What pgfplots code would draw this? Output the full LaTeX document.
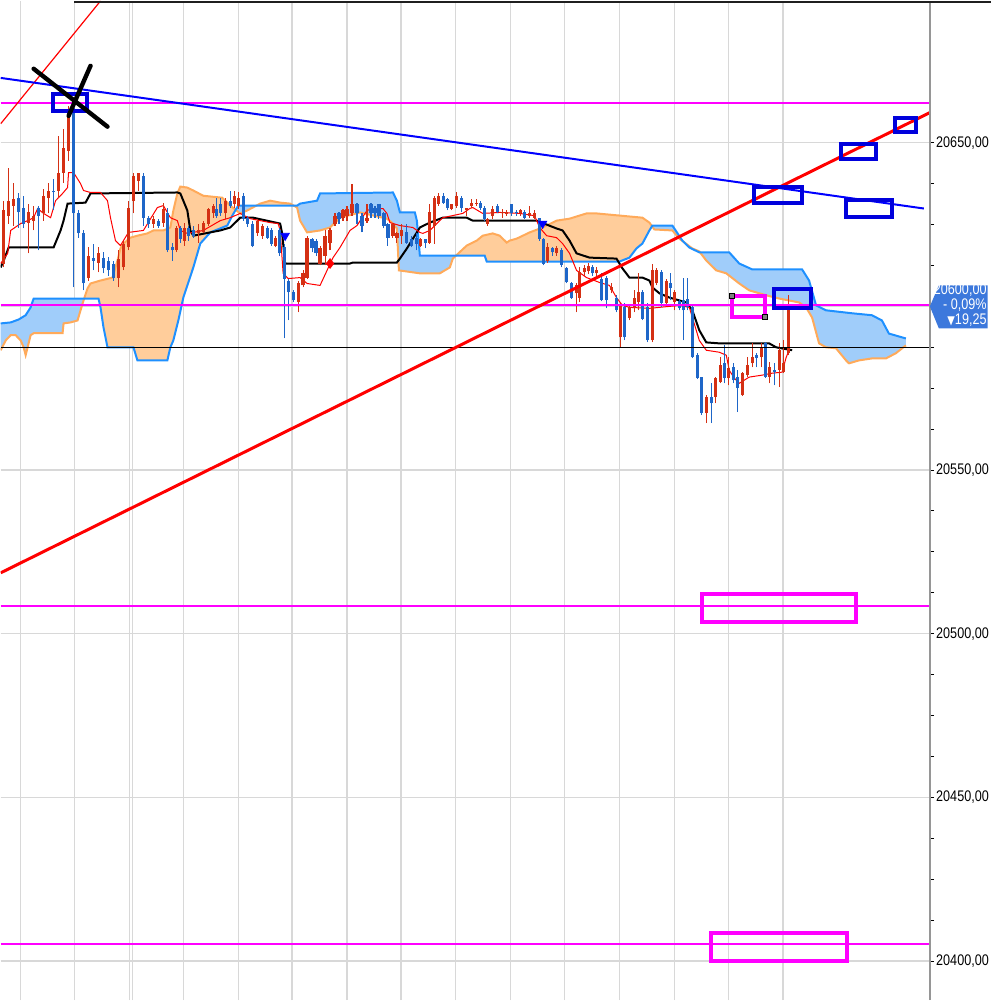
\documentclass[border=0pt]{standalone}
\usepackage{graphicx}
\usepackage{pgfplots}
\pgfplotsset{compat=1.18}
\usepackage{pgfplotstable}
\usepgfplotslibrary{fillbetween}
\usepackage{fontspec}
\setmainfont{Liberation Sans}
\newfontfamily\dejavu{DejaVu Sans}
\newcommand{\yl}[1]{\scalebox{0.82}[1]{#1}}

\definecolor{upc}{RGB}{212,48,20}
\definecolor{dnc}{RGB}{30,102,200}
\definecolor{spanAc}{RGB}{255,170,90}
\definecolor{spanBc}{RGB}{30,144,255}
\definecolor{cloudB}{RGB}{160,205,250}
\definecolor{cloudA}{RGB}{255,205,155}
\definecolor{mag}{RGB}{255,0,255}
\definecolor{rectb}{RGB}{0,0,220}
\definecolor{trendb}{RGB}{0,0,255}
\definecolor{trendr}{RGB}{255,0,0}
\definecolor{gridc}{RGB}{216,216,216}
\definecolor{boxc}{RGB}{60,120,220}
\definecolor{axc}{RGB}{150,150,150}

% up (red) candles: x open high low close
\pgfplotstableread{
x o h l c
3 20613.1 20632.3 20611.9 20629.3
8 20627.7 20642.4 20625.3 20632.3
13 20630.8 20637.8 20624.7 20632.9
28 20625.6 20631.4 20616.2 20628.7
33 20626.2 20630.8 20623.2 20627.7
43 20628.4 20636.0 20626.2 20633.8
48 20633.2 20637.8 20628.4 20635.4
58 20635.4 20652.1 20633.2 20640.9
63 20640.9 20654.3 20637.8 20648.5
68 20647.6 20661.3 20644.5 20660.4
88 20608.8 20618.0 20607.9 20615.5
98 20613.4 20618.0 20610.4 20616.2
118 20608.8 20617.1 20605.8 20614.6
123 20611.9 20620.1 20611.0 20619.2
128 20618.0 20632.3 20617.1 20630.2
133 20632.3 20640.9 20628.4 20639.9
138 20638.4 20640.9 20635.4 20640.6
153 20625.3 20627.7 20624.1 20626.8
163 20625.6 20631.7 20624.4 20629.9
176 20617.1 20624.7 20616.5 20623.8
184 20620.1 20625.6 20618.6 20624.1
198 20622.3 20625.3 20619.5 20623.2
203 20622.6 20626.2 20622.3 20625.6
208 20625.3 20630.2 20624.7 20629.9
213 20628.4 20631.4 20627.1 20630.8
225 20628.4 20633.2 20626.8 20632.3
234 20631.4 20635.4 20630.2 20633.8
238 20630.8 20634.8 20629.9 20633.2
257 20622.3 20626.8 20621.6 20626.2
262 20621.6 20625.3 20620.7 20624.7
275 20618.6 20621.6 20618.0 20621.0
298 20601.2 20607.9 20598.2 20607.0
303 20606.4 20611.0 20605.8 20610.1
307 20608.8 20621.6 20608.5 20621.0
320 20613.1 20618.6 20612.5 20617.7
325 20615.5 20623.2 20612.5 20621.6
330 20619.5 20623.8 20617.1 20623.2
335 20625.3 20628.4 20624.7 20627.7
343 20627.1 20629.9 20626.2 20629.3
347 20627.7 20630.8 20626.2 20629.9
352 20628.4 20637.5 20627.7 20631.4
367 20626.2 20631.4 20625.6 20627.1
393 20621.6 20625.6 20621.0 20625.3
397 20621.0 20622.6 20619.5 20622.3
402 20621.6 20625.3 20619.2 20623.2
421 20618.6 20621.0 20618.0 20620.7
430 20619.5 20631.4 20619.2 20628.7
435 20624.7 20633.8 20619.2 20633.2
439 20631.4 20634.5 20630.8 20633.8
452 20629.9 20631.4 20629.3 20631.4
457 20630.8 20634.8 20630.2 20633.8
467 20629.3 20630.2 20627.7 20630.2
472 20630.8 20632.9 20630.2 20631.7
477 20631.4 20632.9 20630.8 20631.7
488 20625.3 20627.1 20624.7 20626.8
493 20627.7 20630.8 20626.8 20629.9
503 20628.4 20629.9 20627.1 20628.7
507 20628.3 20629.3 20627.7 20628.8
521 20628.4 20629.9 20627.7 20629.3
530 20627.7 20630.8 20627.1 20628.4
535 20627.1 20629.3 20626.8 20628.4
548 20614.0 20619.5 20613.4 20618.0
557 20616.2 20618.6 20615.5 20617.7
577 20604.0 20607.0 20598.2 20606.4
580 20602.7 20611.9 20601.2 20610.4
585 20610.4 20612.5 20609.4 20611.6
589 20610.7 20613.4 20609.8 20612.2
597 20610.1 20611.9 20609.4 20611.0
612 20604.9 20607.0 20604.0 20605.8
621 20590.5 20600.9 20587.5 20600.3
630 20596.6 20600.3 20595.7 20599.7
635 20599.4 20604.9 20598.2 20602.7
639 20601.2 20610.1 20598.8 20604.3
653 20589.6 20613.1 20589.0 20611.0
657 20607.0 20611.6 20606.4 20611.0
667 20600.9 20608.5 20600.3 20607.9
675 20601.2 20604.9 20598.8 20604.3
707 20567.4 20572.9 20564.3 20572.3
716 20572.3 20578.4 20570.4 20578.1
721 20576.8 20584.4 20576.5 20582.0
729 20578.1 20584.4 20575.9 20581.1
743 20572.9 20579.9 20572.6 20579.6
748 20579.0 20584.4 20578.4 20582.0
753 20582.6 20588.7 20581.4 20584.4
762 20584.4 20588.7 20581.4 20587.2
770 20578.4 20582.9 20576.5 20581.4
780 20580.5 20588.7 20575.3 20586.6
784 20579.9 20589.6 20579.6 20582.6
789 20585.7 20603.4 20585.1 20600.0
}\up

% down (blue) candles: x open high low close
\pgfplotstableread{
x o h l c
18 20633.2 20634.5 20624.1 20628.7
23 20630.2 20633.8 20623.8 20625.3
38 20630.2 20630.8 20617.1 20627.7
53 20635.4 20639.0 20629.3 20634.8
73 20660.7 20663.7 20605.8 20628.4
78 20628.4 20629.3 20621.0 20622.3
83 20622.3 20623.2 20604.9 20607.0
93 20614.9 20619.2 20611.0 20614.0
103 20614.9 20616.5 20610.1 20611.6
108 20614.0 20615.2 20609.4 20611.0
113 20613.1 20614.0 20607.9 20608.8
143 20639.9 20640.9 20624.7 20627.1
148 20627.1 20627.7 20624.1 20625.3
158 20626.2 20626.8 20624.1 20624.7
167 20628.4 20630.2 20616.5 20617.1
172 20618.0 20619.5 20614.0 20617.1
180 20623.8 20624.7 20619.5 20620.7
188 20623.8 20624.7 20620.1 20621.6
193 20623.2 20624.7 20621.0 20621.6
216 20629.9 20633.2 20627.1 20627.7
220 20631.4 20633.2 20627.7 20628.4
230 20632.3 20635.4 20630.2 20630.8
243 20633.8 20634.5 20626.2 20626.8
247 20627.1 20627.7 20624.4 20625.3
252 20625.3 20626.2 20618.0 20618.6
267 20624.1 20624.7 20620.7 20621.0
271 20623.2 20623.8 20618.6 20619.2
279 20623.2 20623.8 20615.5 20616.2
284 20618.0 20619.2 20590.2 20608.5
288 20607.9 20608.5 20595.7 20604.3
293 20604.3 20604.9 20601.2 20601.8
312 20620.7 20621.0 20616.5 20617.7
316 20620.1 20620.7 20615.5 20616.2
339 20628.4 20628.7 20625.3 20626.8
357 20631.4 20631.7 20625.3 20628.4
362 20627.7 20628.4 20622.6 20624.7
371 20631.4 20631.7 20627.1 20628.4
375 20630.2 20630.8 20627.1 20628.4
379 20631.4 20631.4 20626.8 20627.7
384 20628.4 20628.7 20623.8 20624.7
388 20625.3 20625.6 20618.6 20621.0
407 20622.6 20625.3 20619.2 20619.5
412 20620.7 20621.6 20618.0 20618.6
417 20621.0 20622.3 20617.1 20619.2
426 20620.7 20620.7 20617.7 20619.5
444 20633.8 20634.5 20631.4 20631.7
448 20632.9 20633.2 20629.3 20630.2
462 20633.2 20633.8 20628.7 20630.2
481 20631.7 20632.3 20629.3 20630.2
485 20630.2 20630.8 20626.2 20626.8
498 20630.8 20631.4 20628.4 20628.7
512 20631.4 20631.4 20627.7 20628.4
517 20628.7 20629.3 20627.7 20628.4
525 20628.7 20629.3 20626.8 20627.1
540 20627.1 20627.1 20620.1 20620.7
544 20620.7 20621.0 20612.5 20613.1
553 20617.7 20618.0 20615.5 20616.5
562 20617.1 20617.7 20611.9 20612.5
567 20611.6 20611.9 20607.0 20607.3
572 20607.0 20607.3 20602.4 20602.7
593 20611.9 20612.5 20609.4 20610.1
602 20608.5 20610.1 20601.5 20601.8
607 20608.8 20609.4 20599.4 20601.8
617 20602.7 20603.4 20598.2 20598.8
625 20599.7 20600.9 20589.6 20590.5
643 20604.3 20604.9 20595.7 20596.3
648 20599.7 20600.9 20589.0 20589.6
662 20610.4 20611.0 20599.7 20600.9
671 20607.3 20610.1 20601.8 20605.5
680 20601.8 20602.4 20598.8 20599.4
684 20601.8 20608.8 20589.6 20598.8
688 20602.4 20608.8 20598.8 20599.7
693 20599.7 20600.3 20584.1 20584.4
698 20585.1 20585.7 20577.8 20578.1
702 20578.4 20578.4 20566.8 20567.4
712 20572.3 20576.5 20564.3 20570.4
725 20582.6 20588.1 20576.5 20578.1
734 20581.4 20582.6 20576.5 20577.4
738 20578.4 20580.5 20567.7 20575.0
757 20585.1 20585.7 20581.4 20584.1
766 20588.7 20589.0 20578.1 20578.4
775 20580.5 20582.6 20575.9 20579.9
}\dn

% Senkou span A (orange)
\pgfplotstableread{
x y
0 20586.6
5 20589.6
10 20591.2
15 20591.2
20 20589.6
23 20587.5
25 20585.1
27 20587.5
30 20591.2
33 20591.8
62 20591.8
63 20594.8
70 20595.1
77 20595.7
80 20598.8
83 20601.8
87 20605.5
90 20607.0
100 20607.9
112 20608.8
117 20614.0
120 20617.7
123 20619.2
130 20621.0
137 20621.6
147 20622.3
153 20623.2
163 20623.2
170 20624.1
173 20629.3
177 20634.5
180 20636.6
187 20636.3
193 20635.4
203 20633.8
222 20633.2
230 20630.8
240 20628.4
247 20629.3
260 20631.4
270 20632.3
280 20631.7
290 20631.4
297 20630.2
300 20626.2
307 20622.6
320 20623.2
330 20624.1
340 20627.1
360 20628.7
387 20626.8
392 20625.6
397 20623.8
399 20611.0
420 20610.1
440 20610.1
450 20611.9
453 20614.6
467 20618.6
477 20620.1
483 20621.6
493 20622.3
500 20621.6
507 20619.5
510 20620.1
517 20620.7
530 20622.6
543 20624.1
557 20626.2
570 20626.8
587 20628.4
597 20628.4
643 20627.1
650 20625.6
655 20623.5
673 20623.2
680 20620.7
693 20617.7
700 20616.8
707 20614.0
717 20611.0
727 20610.1
740 20607.0
750 20604.9
767 20603.4
780 20602.4
800 20601.2
807 20599.7
813 20596.6
820 20588.7
827 20587.5
837 20587.2
847 20583.5
850 20582.6
860 20583.5
873 20584.1
887 20584.1
897 20585.7
907 20588.1
}\spanA

% Senkou span B (blue)
\pgfplotstableread{
x y
0 20594.8
10 20595.1
18 20596.0
25 20597.3
30 20599.7
33 20602.4
98 20602.4
100 20599.7
103 20593.6
107 20587.5
133 20587.5
137 20583.5
167 20583.5
170 20587.5
173 20589.6
178 20595.7
183 20602.7
193 20611.9
200 20619.2
210 20622.6
227 20624.7
232 20627.7
238 20630.8
297 20630.8
300 20631.4
317 20632.3
320 20634.5
393 20634.8
397 20632.3
400 20628.7
415 20628.7
417 20626.2
420 20615.5
485 20615.5
487 20613.7
620 20613.7
630 20614.9
637 20617.7
643 20619.2
650 20623.2
653 20624.7
673 20624.7
683 20620.1
690 20618.0
700 20616.5
730 20616.5
740 20613.1
753 20611.3
803 20611.3
810 20607.9
817 20600.3
827 20598.8
853 20597.9
873 20597.3
883 20595.7
890 20591.7
907 20590.2
}\spanB

% Kijun (black)
\pgfplotstableread{
x y
0 20611.9
3 20614.0
8 20618.0
53 20618.0
60 20623.2
63 20626.2
67 20631.4
85 20631.7
90 20634.5
177 20634.8
180 20634.5
187 20629.3
190 20623.2
193 20621.6
220 20623.2
230 20624.1
240 20627.1
253 20627.1
280 20625.3
282 20622.3
285 20613.1
350 20613.1
353 20613.4
397 20613.4
400 20614.6
407 20617.7
420 20624.1
430 20625.6
443 20627.1
467 20627.1
473 20626.2
537 20626.2
557 20623.8
563 20623.2
570 20620.1
577 20616.2
590 20614.9
617 20614.6
623 20611.6
630 20608.8
643 20608.8
650 20607.9
653 20605.8
660 20604.0
670 20602.7
687 20601.2
693 20598.8
700 20592.7
707 20589.0
720 20588.7
770 20588.7
777 20587.5
793 20586.6
}\kijun

% Tenkan (red)
\pgfplotstableread{
x y
0 20613.1
7 20616.2
10 20623.2
20 20625.3
27 20626.2
33 20627.1
37 20629.9
43 20628.4
50 20627.1
55 20632.3
62 20634.5
67 20636.3
68 20640.9
73 20640.9
80 20637.5
83 20635.4
90 20634.8
100 20634.8
107 20632.3
110 20627.1
115 20620.1
120 20618.6
128 20622.6
143 20623.2
157 20630.2
163 20630.8
170 20627.1
177 20626.2
180 20623.2
187 20622.3
193 20622.6
203 20623.2
220 20626.2
230 20627.1
240 20628.4
250 20626.8
260 20626.2
270 20625.6
278 20625.3
280 20623.2
283 20610.1
288 20608.5
300 20608.8
307 20607.0
320 20606.4
327 20611.0
333 20614.9
340 20618.0
350 20623.2
357 20624.7
367 20629.3
373 20629.9
383 20629.9
387 20628.4
390 20625.6
400 20624.7
413 20624.1
420 20622.6
423 20622.3
430 20623.2
437 20625.3
443 20627.1
463 20628.4
470 20629.9
473 20630.2
483 20628.4
500 20628.7
520 20628.4
535 20627.7
540 20624.1
547 20621.6
557 20621.0
563 20619.2
570 20616.2
577 20611.0
587 20608.8
595 20607.9
600 20607.3
610 20606.4
617 20602.7
623 20600.3
630 20599.7
650 20599.4
660 20599.7
680 20600.3
690 20599.7
700 20589.6
707 20586.6
720 20586.0
727 20585.1
730 20580.5
735 20578.1
740 20576.5
750 20578.4
763 20579.0
773 20579.6
783 20579.9
787 20584.4
790 20586.6
}\tenkan

\begin{document}
\begin{tikzpicture}
\path (0,0) rectangle (496pt,500.5pt);
\begin{axis}[
  at={(0,0)}, anchor=south west,
  scale only axis, width=465.5pt, height=500.5pt,
  xmin=0, xmax=931, ymin=20388.1, ymax=20693.3,
  axis line style={draw=none},
  scaled y ticks=false, scaled x ticks=false,
  xtick={20,74,129,132,183,238,292,347,401,456,511,565,620,675,729,784},
  xticklabels={},
  xticklabel style={overlay, inner sep=0pt},
  x tick style={draw=none},
  xtick align=inside,
  ytick align=outside,
  xmajorgrids, ymajorgrids,
  grid style={color=gridc, line width=0.7pt},
  ytick={20400,20450,20500,20550,20600,20650},
  yticklabels={{\yl{20400,00}},{\yl{20450,00}},{\yl{20500,00}},{\yl{20550,00}},{},{\yl{20650,00}}},
  minor y tick num=3,
  ytick pos=right, yticklabel pos=right,
  major tick length=2.2pt, minor tick length=2.2pt,
  y tick style={black, line width=0.5pt},
  yticklabel style={font=\fontsize{7.7}{8}\selectfont, inner sep=0.8pt},
]
% cloud boundaries (paths for filling)
\addplot[name path=A, draw=none, forget plot] table[x=x,y=y] {\spanA};
\addplot[name path=B, draw=none, forget plot] table[x=x,y=y] {\spanB};
\addplot[fill=cloudB, draw=none, forget plot] fill between[of=A and B];
\addplot[fill=cloudA, draw=none, forget plot] fill between[of=A and B, soft clip={domain=84:235}];
\addplot[fill=cloudA, draw=none, forget plot] fill between[of=A and B, soft clip={domain=255:294}];
\addplot[fill=cloudA, draw=none, forget plot] fill between[of=A and B, soft clip={domain=455:652}];
\addplot[spanAc, line width=1pt, forget plot] table[x=x,y=y] {\spanA};
\addplot[spanBc, line width=1pt, forget plot] table[x=x,y=y] {\spanB};

% kijun and tenkan
\addplot[black, line width=1pt, forget plot] table[x=x,y=y] {\kijun};
\addplot[trendr, line width=0.5pt, forget plot] table[x=x,y=y] {\tenkan};

% candles: wicks
\addplot[draw=none, mark=none, forget plot,
  error bars/.cd, y dir=plus, y explicit, error mark=none,
  error bar style={draw=upc, line width=0.55pt}]
  table[x=x, y=l, y error plus expr=\thisrow{h}-\thisrow{l}] {\up};
\addplot[draw=none, mark=none, forget plot,
  error bars/.cd, y dir=plus, y explicit, error mark=none,
  error bar style={draw=dnc, line width=0.55pt}]
  table[x=x, y=l, y error plus expr=\thisrow{h}-\thisrow{l}] {\dn};
% candles: bodies
\addplot[draw=none, mark=none, forget plot,
  error bars/.cd, y dir=plus, y explicit, error mark=none,
  error bar style={draw=upc, line width=1.6pt}]
  table[x=x, y=o, y error plus expr=\thisrow{c}-\thisrow{o}] {\up};
\addplot[draw=none, mark=none, forget plot,
  error bars/.cd, y dir=plus, y explicit, error mark=none,
  error bar style={draw=dnc, line width=1.6pt}]
  table[x=x, y=c, y error plus expr=\thisrow{o}-\thisrow{c}] {\dn};

% horizontal levels
\draw[mag, line width=1.05pt] (0,20662.2) -- (931,20662.2);
\draw[mag, line width=1.05pt] (0,20600.3) -- (931,20600.3);
\draw[black, line width=0.8pt] (0,20587.5) -- (931,20587.5);
\draw[mag, line width=1.05pt] (0,20508.5) -- (931,20508.5);
\draw[mag, line width=1.05pt] (0,20405.2) -- (931,20405.2);

% trend lines
\addplot[trendr, line width=1.5pt, forget plot] coordinates {(0,20518.6) (931,20659.2)};
\addplot[trendr, line width=0.6pt, forget plot] coordinates {(0,20655.8) (100,20693.3)};
\addplot[trendb, line width=1pt, forget plot] coordinates {(0,20669.8) (925,20629.9)};

% signal markers
\addplot[only marks, mark=triangle*, mark size=2.4pt, color=trendb, mark options={rotate=180}, forget plot]
  coordinates {(285,20621.6) (543,20625.3)};
\addplot[only marks, mark=diamond*, mark size=2.4pt, color=trendr, forget plot]
  coordinates {(330,20613.1)};

% drawn boxes
\draw[rectb, line width=2pt] (52,20659.8) rectangle (86,20664.9);
\draw[rectb, line width=2pt] (755,20631.7) rectangle (803,20636.6);
\draw[rectb, line width=2pt] (842,20645.1) rectangle (877,20649.7);
\draw[rectb, line width=2pt] (896,20653.4) rectangle (917,20657.6);
\draw[rectb, line width=2pt] (847,20627.4) rectangle (893,20632.6);
\draw[rectb, line width=2pt] (775,20599.4) rectangle (812,20605.2);
\draw[mag, line width=1.8pt] (733,20596.7) rectangle (766,20603.1);
\draw[mag, line width=2pt] (703,20503.6) rectangle (857,20512.2);
\draw[mag, line width=2pt] (712,20400.0) rectangle (848,20408.5);
\addplot[only marks, mark=square*, mark size=1.3pt, fill=gray, draw=black, forget plot]
  coordinates {(733,20603.1) (766,20596.7)};

% black cross
\draw[black, line width=2.2pt, line cap=round] (33,20672.6) -- (107,20654.9);
\draw[black, line width=2.2pt, line cap=round] (90,20673.5) -- (68,20658.2);

\coordinate (cp) at (931,20600.0);
\end{axis}
\draw[axc, line width=1pt] (465.5pt,0) -- (465.5pt,500.5pt);
\fill[black!88] (36.5pt,499.6pt) rectangle (496pt,500.5pt);
\fill[boxc] (cp) -- ++(4.5pt,10.5pt) -- ++(24.5pt,0) -- ++(0,-21.5pt) -- ++(-24.5pt,0) -- cycle;
\node[anchor=east, inner sep=0pt, text=white] at ([xshift=28.6pt]cp)
  {\fontsize{7.7}{7}\selectfont\scalebox{0.82}[1]{\begin{tabular}{@{}r@{}}20600,00\\- 0,09\%\\{\dejavu\fontsize{6}{7}\selectfont ▼}19,25\end{tabular}}};
\end{tikzpicture}
\end{document}
